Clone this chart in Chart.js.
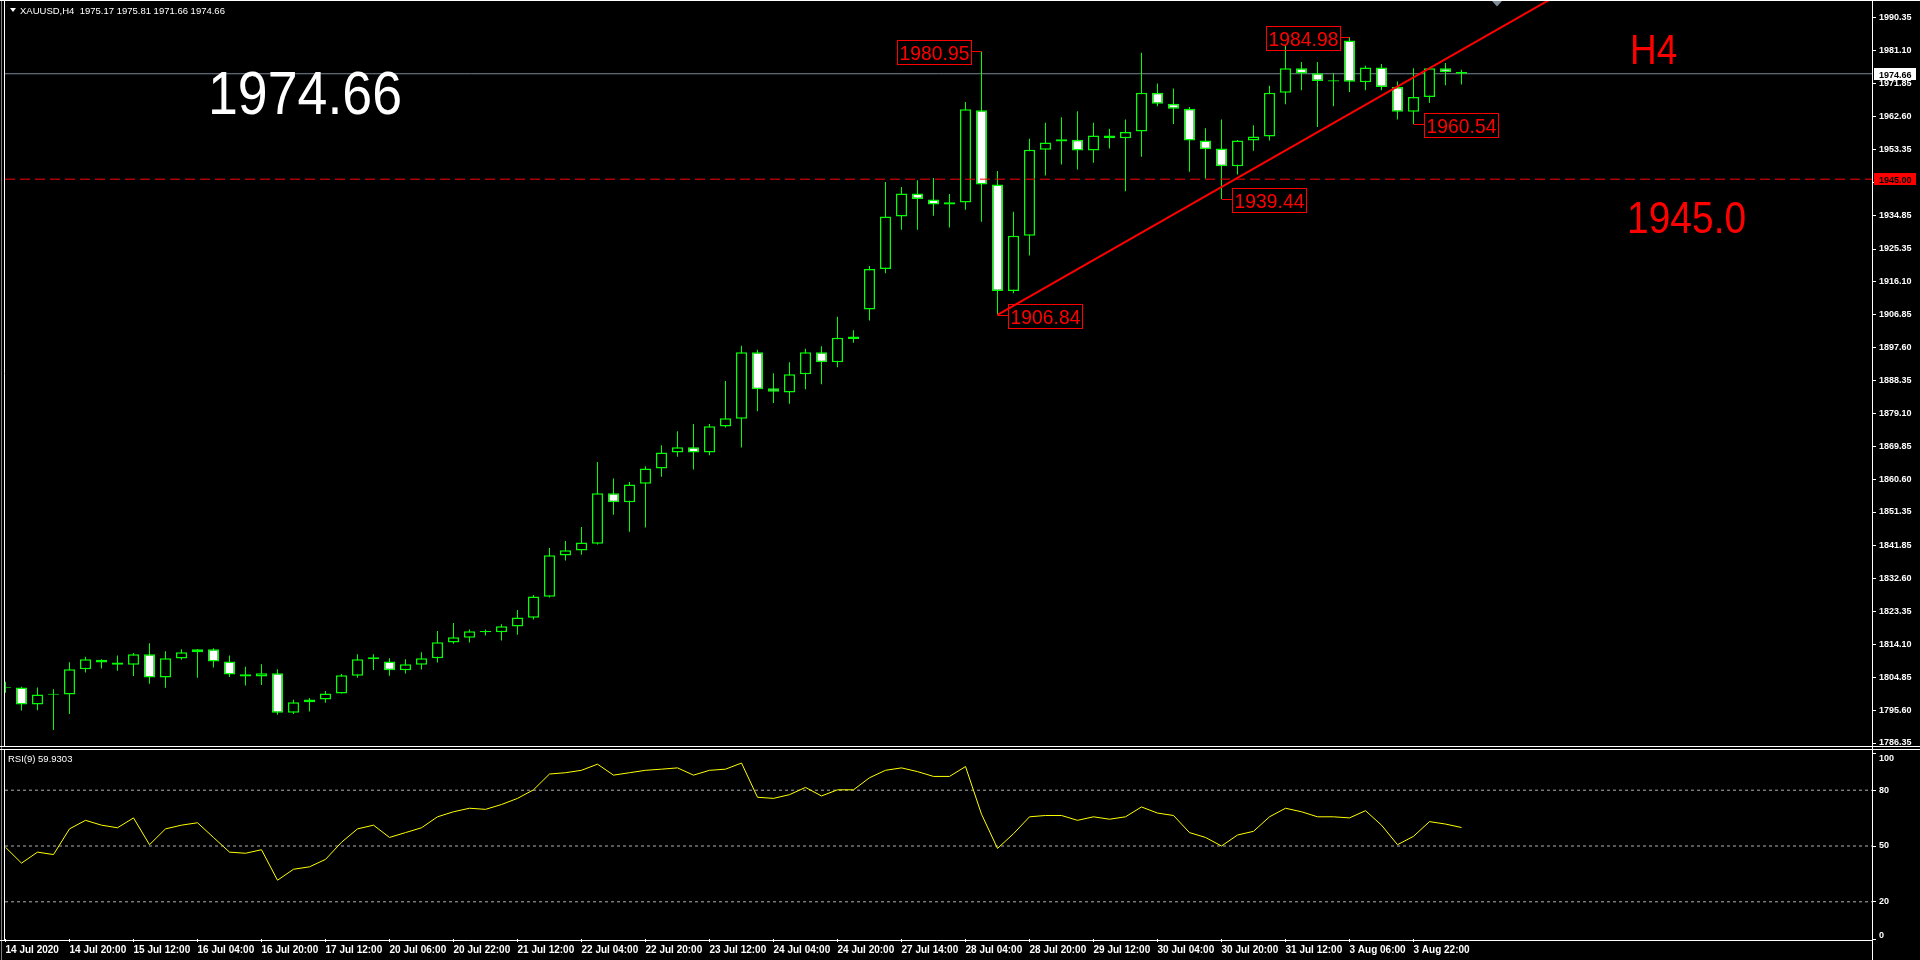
<!DOCTYPE html>
<html>
<head>
<meta charset="utf-8">
<title>XAUUSD H4</title>
<script src="https://cdn.jsdelivr.net/npm/chart.js@4.4.1/dist/chart.umd.min.js"></script>
<style>
html, body { margin: 0; padding: 0; background: #000; overflow: hidden; }
#wrap { position: relative; width: 1920px; height: 960px; background: #000; }
#mainBox { position: absolute; left: 0; top: 0; width: 1920px; height: 748px; }
#rsiBox { position: absolute; left: 0; top: 748px; width: 1920px; height: 212px; }
</style>
</head>
<body>
<div id="wrap">
    <div id="mainBox"><canvas id="mainChart"></canvas></div>
    <div id="rsiBox"><canvas id="rsiChart"></canvas></div>
</div>
<script>
const SYMBOL = "XAUUSD,H4";
const LAST_OHLC = [1975.17, 1975.81, 1971.66, 1974.66];

// one label every 4 bars (bar 0, 4, 8 ...)
const LABEL_STEP = 4;
const TIME_LABELS = ["14 Jul 2020","14 Jul 20:00","15 Jul 12:00","16 Jul 04:00","16 Jul 20:00","17 Jul 12:00",
    "20 Jul 06:00","20 Jul 22:00","21 Jul 12:00","22 Jul 04:00","22 Jul 20:00","23 Jul 12:00","24 Jul 04:00",
    "24 Jul 20:00","27 Jul 14:00","28 Jul 04:00","28 Jul 20:00","29 Jul 12:00","30 Jul 04:00","30 Jul 20:00",
    "31 Jul 12:00","3 Aug 06:00","3 Aug 22:00"];

const OPEN = [1801.9,1802.0,1797.2,1799.9,1800.0,1807.1,1809.8,1809.0,1808.4,1811.3,
    1804.8,1810.1,1811.9,1812.7,1809.3,1805.7,1805.1,1806.0,1794.9,1797.8,
    1798.6,1800.3,1805.3,1809.9,1809.3,1806.8,1808.4,1810.2,1814.6,1816.0,
    1817.5,1817.5,1819.1,1821.6,1827.5,1839.1,1840.5,1842.4,1856.6,1854.1,
    1859.3,1863.6,1868.1,1869.6,1868.1,1875.4,1877.6,1896.3,1886.2,1885.0,
    1890.1,1896.3,1893.5,1900.0,1908.3,1919.7,1934.5,1941.0,1939.3,1937.9,
    1938.4,1964.4,1943.5,1913.5,1929.1,1953.3,1955.6,1956.1,1953.1,1957.3,
    1956.5,1958.4,1969.3,1966.2,1964.8,1955.9,1953.6,1948.6,1955.9,1957.0,
    1969.3,1976.2,1974.8,1972.5,1984.0,1972.3,1976.4,1970.9,1964.0,1968.1,
    1976.2,1975.17];
const HIGH = [1803.6,1802.2,1802.0,1801.5,1809.1,1810.6,1809.9,1811.0,1811.7,1814.4,
    1812.2,1812.7,1812.8,1813.0,1811.0,1807.8,1808.5,1807.1,1798.5,1799.0,
    1801.0,1805.8,1811.3,1811.3,1810.2,1809.9,1811.9,1817.9,1820.1,1818.3,
    1818.3,1819.8,1823.8,1828.0,1841.2,1843.2,1847.1,1865.4,1860.8,1859.8,
    1864.2,1870.1,1874.1,1876.1,1876.1,1888.2,1898.1,1897.0,1890.4,1893.5,
    1897.3,1898.0,1906.3,1902.5,1920.6,1944.2,1942.8,1944.7,1945.3,1940.8,
    1966.7,1980.95,1947.3,1935.8,1956.4,1960.9,1962.4,1964.1,1960.9,1959.2,
    1961.8,1980.6,1971.9,1970.5,1965.3,1959.3,1961.8,1956.0,1960.2,1971.3,
    1982.7,1978.0,1978.0,1974.8,1984.98,1976.9,1977.4,1972.5,1976.2,1976.4,
    1977.7,1975.81];
const LOW = [1800.5,1795.5,1795.6,1790.0,1794.5,1806.2,1807.3,1806.7,1805.2,1803.0,
    1801.9,1809.8,1804.7,1807.6,1804.9,1802.5,1802.7,1794.3,1794.5,1795.2,
    1797.7,1800.3,1804.7,1806.9,1805.3,1805.9,1807.0,1809.0,1814.3,1814.6,
    1816.6,1815.2,1816.8,1821.1,1827.3,1837.7,1839.3,1842.2,1850.6,1845.8,
    1847.0,1861.3,1866.9,1863.3,1867.3,1875.1,1869.5,1879.7,1882.0,1881.8,
    1885.9,1887.3,1892.1,1899.0,1905.2,1918.5,1930.8,1930.8,1934.7,1931.4,
    1936.4,1933.0,1906.84,1912.9,1923.5,1946.0,1949.1,1947.7,1949.6,1953.6,
    1941.6,1951.3,1965.5,1960.5,1947.1,1945.1,1939.44,1946.3,1953.0,1955.9,
    1966.1,1970.0,1959.7,1965.5,1969.5,1970.0,1970.0,1961.8,1960.54,1966.5,
    1971.4,1971.66];
const CLOSE = [1802.1,1797.2,1800.0,1800.2,1807.1,1809.9,1809.0,1808.4,1811.3,1804.8,
    1810.2,1811.9,1812.7,1809.3,1805.6,1805.1,1806.0,1794.9,1797.8,1798.6,
    1800.3,1805.4,1809.9,1810.5,1806.8,1808.5,1810.2,1814.7,1816.1,1817.8,
    1817.9,1819.2,1821.7,1827.6,1839.2,1840.6,1842.8,1856.6,1854.1,1859.1,
    1863.6,1868.1,1869.6,1868.1,1875.5,1877.7,1896.3,1885.9,1885.2,1890.1,
    1896.3,1893.5,1900.4,1900.7,1919.7,1934.5,1941.0,1939.4,1937.9,1938.5,
    1964.7,1943.5,1913.5,1929.1,1953.3,1955.3,1956.2,1953.1,1957.3,1956.5,
    1958.3,1969.3,1966.2,1964.8,1955.9,1953.4,1948.6,1955.9,1957.0,1969.3,
    1976.2,1974.7,1972.6,1972.8,1972.4,1976.4,1970.9,1964.0,1968.1,1976.2,
    1975.1,1974.66];

const RSI_PERIOD = 9;
const RSI_LAST = 59.9303;
const RSI = [49.3,40.8,46.7,45.4,59.2,63.8,61.2,59.8,65.1,50.7,
    59.2,61.2,62.5,54.6,46.7,46.1,48.0,31.6,37.5,38.8,
    42.8,52.0,59.2,61.2,54.6,57.2,59.8,65.7,68.4,70.3,
    69.7,72.3,75.6,80.2,88.7,89.4,90.7,94.0,88.1,89.4,
    90.7,91.3,92.0,88.1,90.7,91.3,94.6,76.2,75.6,77.6,
    81.5,76.9,80.2,80.2,86.7,90.7,92.0,90.0,87.4,87.4,
    92.7,67.1,48.7,56.6,65.7,66.4,66.4,63.8,65.7,64.4,
    65.7,71.0,67.7,66.4,57.2,54.6,50.0,55.9,57.9,65.7,
    70.3,68.4,65.7,65.7,65.1,69.0,61.2,50.7,55.2,63.1,
    61.8,59.93];

const PRICE_TICKS = [1990.35,1981.10,1971.85,1962.60,1953.35,1944.10,1934.85,1925.35,1916.10,1906.85,
    1897.60,1888.35,1879.10,1869.85,1860.60,1851.35,1841.85,1832.60,1823.35,1814.10,1804.85,1795.60,1786.35];
const RSI_TICKS = [0, 20, 50, 80, 100];
const RSI_LEVELS = [20, 50, 80];
const RSI_MIN = 0, RSI_MAX = 100;

const LAST_PRICE = 1974.66;
const HLINE_PRICE = 1945.00;
// trend line through two (bar, price) points, drawn as a ray to the right
const TREND_A = [62, 1906.84];
const TREND_B = [91, 1981.35];

const MARK_BARS   = [61, 84, 62, 76, 88];
const MARK_PRICES = [1980.95, 1984.98, 1906.84, 1939.44, 1960.54];
const MARK_SIDES  = ["high", "high", "low", "low", "low"];

const TEXT_BIG = "1974.66";
const TEXT_TF = "H4";
const TEXT_LEVEL = "1945.0";

/* ---- layout ---- */
const FONT = '"Liberation Sans", Arial, sans-serif';
const AXIS_W = 48;
const PAD_L = 5;
const PLOT_W = 1920 - PAD_L - AXIS_W;      // 1867 px
const BAR_PX = 16;
const X_MIN = -0.5 / BAR_PX;
const X_MAX = X_MIN + PLOT_W / BAR_PX;
const Y_MIN = 1785.51, Y_MAX = 1995.13;

const GREEN = "#00ff00";
const RED = "#ff0000";

Chart.defaults.font.family = FONT;
Chart.defaults.animation = false;

function drawText(ctx, str, x, y, font, color, sx, align) {
    ctx.save();
    ctx.font = font;
    ctx.fillStyle = color;
    ctx.textAlign = "left";
    ctx.textBaseline = "alphabetic";
    const w = ctx.measureText(str).width * sx;
    let x0 = x;
    if (align === "center") x0 = x - w / 2;
    if (align === "right") x0 = x - w;
    ctx.translate(x0, y);
    ctx.scale(sx, 1);
    ctx.fillText(str, 0, 0);
    ctx.restore();
}

function hLine(ctx, x1, x2, y) { ctx.beginPath(); ctx.moveTo(x1, y); ctx.lineTo(x2, y); ctx.stroke(); }
function vLine(ctx, x, y1, y2) { ctx.beginPath(); ctx.moveTo(x, y1); ctx.lineTo(x, y2); ctx.stroke(); }

// keep the plot area exactly where the layout says (no label padding)
function fixSide(s) { s.width = AXIS_W; s.paddingTop = 0; s.paddingBottom = 0; }
function fixBottom(s) { s.height = 21; s.paddingLeft = 0; s.paddingRight = 0; }

const bull = i => CLOSE[i] >= OPEN[i];
const bars = OPEN.map((_, i) => i);

const trendSlope = (TREND_B[1] - TREND_A[1]) / (TREND_B[0] - TREND_A[0]);
const trendEnd = X_MAX + 5;

const mainOverlay = {
    id: "mainOverlay",
    afterDatasetsDraw(chart) {
        const ctx = chart.ctx, xs = chart.scales.x, ys = chart.scales.y;
        ctx.save();
        ctx.strokeStyle = RED;
        ctx.lineWidth = 1;
        MARK_BARS.forEach((b, k) => {
            const px = xs.getPixelForValue(b);
            const py = Math.round(ys.getPixelForValue(MARK_PRICES[k])) + 0.5;
            const w = 74, h = 24, gap = 10;
            const bx = MARK_SIDES[k] === "high" ? Math.round(px - gap - w) : Math.round(px + gap);
            hLine(ctx, MARK_SIDES[k] === "high" ? bx + w : bx, px, py);
            ctx.strokeRect(bx + 0.5, Math.round(py - h / 2) + 0.5, w, h);
            drawText(ctx, MARK_PRICES[k].toFixed(2), bx + w / 2 + 0.5, py + 8, "21px " + FONT, RED, 0.92, "center");
        });
        ctx.restore();
    },
    afterDraw(chart) {
        const ctx = chart.ctx, ys = chart.scales.y, a = chart.chartArea;
        ctx.save();
        // frame
        ctx.strokeStyle = "#808080"; ctx.lineWidth = 1;
        vLine(ctx, 1.5, 0, chart.height);
        ctx.strokeStyle = "#ffffff";
        hLine(ctx, 0, 1920, 0.5);
        hLine(ctx, 0, 1920, a.bottom + 0.5);
        vLine(ctx, a.left - 0.5, 0, a.bottom + 0.5);
        vLine(ctx, a.right + 0.5, 0, chart.height);

        // price boxes on the axis
        const boxes = [[LAST_PRICE, "#ffffff"], [HLINE_PRICE, RED]];
        boxes.forEach(([p, col]) => {
            const py = Math.round(ys.getPixelForValue(p));
            ctx.fillStyle = col;
            ctx.fillRect(a.right + 2, py - 6, 42, 12);
            drawText(ctx, p.toFixed(2), a.right + 7, py + 3.5, "bold 9px " + FONT, "#000000", 1, "left");
        });

        // chart shift marker
        ctx.fillStyle = "#7f8c99";
        ctx.beginPath();
        ctx.moveTo(a.right - 380, 1); ctx.lineTo(a.right - 370, 1); ctx.lineTo(a.right - 375, 6.5);
        ctx.closePath(); ctx.fill();

        // header
        ctx.fillStyle = "#ffffff";
        ctx.beginPath();
        ctx.moveTo(10, 8); ctx.lineTo(16, 8); ctx.lineTo(13, 12); ctx.closePath(); ctx.fill();
        drawText(ctx, SYMBOL + "  " + LAST_OHLC.map(v => v.toFixed(2)).join(" "), 20, 13.5, "9.5px " + FONT, "#ffffff", 1, "left");

        // text objects
        drawText(ctx, TEXT_BIG, 208, 114, "61px " + FONT, "#ffffff", 0.88, "left");
        drawText(ctx, TEXT_TF, 1630, 64, "42px " + FONT, RED, 0.88, "left");
        drawText(ctx, TEXT_LEVEL, 1627, 233, "44px " + FONT, RED, 0.885, "left");
        ctx.restore();
    }
};

const rsiOverlay = {
    id: "rsiOverlay",
    afterDraw(chart) {
        const ctx = chart.ctx, a = chart.chartArea;
        ctx.save();
        ctx.strokeStyle = "#808080"; ctx.lineWidth = 1;
        vLine(ctx, 1.5, 0, chart.height);
        ctx.strokeStyle = "#ffffff";
        hLine(ctx, 0, 1920, 1.5);
        hLine(ctx, 0, a.right + 0.5, a.bottom + 1.5);
        vLine(ctx, a.left - 0.5, 1.5, a.bottom + 1.5);
        vLine(ctx, a.right + 0.5, 0, chart.height);
        drawText(ctx, "RSI(" + RSI_PERIOD + ") " + RSI_LAST.toFixed(4), 8, 13.5, "9.5px " + FONT, "#ffffff", 1, "left");
        // end labels of the indicator scale sit just inside the pane
        drawText(ctx, String(RSI_MAX), a.right + 7, a.top + 7.5, "bold 9px " + FONT, "#ffffff", 1, "left");
        drawText(ctx, String(RSI_MIN), a.right + 7, a.bottom - 1.5, "bold 9px " + FONT, "#ffffff", 1, "left");
        ctx.restore();
    }
};

new Chart(document.getElementById("mainChart"), {
    type: "bar",
    data: {
        datasets: [
            {
                type: "line",
                data: [{ x: X_MIN, y: LAST_PRICE }, { x: X_MAX, y: LAST_PRICE }],
                borderColor: "#778899", borderWidth: 1, pointRadius: 0, order: 10
            },
            {
                data: bars.map(i => ({ x: i, y: [LOW[i], HIGH[i]] })),
                backgroundColor: GREEN, borderWidth: 0, barThickness: 1,
                inflateAmount: 0, grouped: false, order: 9
            },
            {
                data: bars.map(i => ({ x: i, y: [OPEN[i], CLOSE[i]] })),
                backgroundColor: bars.map(i => bull(i) ? "#000000" : "#ffffff"),
                borderColor: GREEN, borderWidth: 1.5, borderSkipped: false,
                barThickness: 11, inflateAmount: 0, grouped: false, order: 8
            },
            {
                type: "line",
                data: [{ x: X_MIN, y: HLINE_PRICE }, { x: X_MAX, y: HLINE_PRICE }],
                borderColor: RED, borderWidth: 1, borderDash: [10, 5], pointRadius: 0, order: 3
            },
            {
                type: "line",
                data: [{ x: TREND_A[0], y: TREND_A[1] },
                       { x: trendEnd, y: TREND_A[1] + trendSlope * (trendEnd - TREND_A[0]) }],
                borderColor: RED, borderWidth: 2, pointRadius: 0, order: 2
            }
        ]
    },
    options: {
        responsive: true,
        maintainAspectRatio: false,
        devicePixelRatio: 1,
        events: [],
        layout: { autoPadding: false, padding: { left: PAD_L, right: 0, top: 1, bottom: 2 } },
        plugins: { legend: { display: false }, tooltip: { enabled: false } },
        scales: {
            x: { type: "linear", display: false, min: X_MIN, max: X_MAX, offset: false },
            y: {
                type: "linear", position: "right", min: Y_MIN, max: Y_MAX,
                afterFit: fixSide,
                afterBuildTicks: s => { s.ticks = PRICE_TICKS.map(v => ({ value: v })); },
                ticks: {
                    color: "#ffffff", padding: 3, autoSkip: false,
                    font: { size: 9, weight: "bold" },
                    callback: v => Number(v).toFixed(2)
                },
                grid: { display: true, drawOnChartArea: false, drawTicks: true, tickLength: 4, tickColor: "#ffffff" },
                border: { display: false }
            }
        }
    },
    plugins: [mainOverlay]
});

new Chart(document.getElementById("rsiChart"), {
    type: "line",
    data: {
        datasets: [
            ...RSI_LEVELS.map(lv => ({
                data: [{ x: X_MIN, y: lv }, { x: X_MAX, y: lv }],
                borderColor: "#b0b0b0", borderWidth: 1, borderDash: [3, 3], pointRadius: 0, order: 5
            })),
            {
                data: bars.map(i => ({ x: i, y: RSI[i] })),
                borderColor: "#ffff00", borderWidth: 1, pointRadius: 0, tension: 0, order: 1
            }
        ]
    },
    options: {
        responsive: true,
        maintainAspectRatio: false,
        devicePixelRatio: 1,
        events: [],
        layout: { autoPadding: false, padding: { left: PAD_L, right: 0, top: 5, bottom: 0 } },
        plugins: { legend: { display: false }, tooltip: { enabled: false } },
        scales: {
            x: {
                type: "linear", min: X_MIN, max: X_MAX, offset: false,
                afterFit: fixBottom,
                afterBuildTicks: s => { s.ticks = TIME_LABELS.map((_, k) => ({ value: k * LABEL_STEP })); },
                ticks: {
                    color: "#ffffff", align: "start", padding: 2, autoSkip: false,
                    maxRotation: 0, minRotation: 0,
                    font: { size: 10, weight: "bold" },
                    callback: v => TIME_LABELS[Math.round(v / LABEL_STEP)]
                },
                grid: { display: true, drawOnChartArea: false, drawTicks: true, tickLength: 3, tickColor: "#ffffff" },
                border: { display: false }
            },
            y: {
                type: "linear", position: "right", min: RSI_MIN, max: RSI_MAX,
                afterFit: fixSide,
                afterBuildTicks: s => { s.ticks = RSI_TICKS.map(v => ({ value: v })); },
                ticks: {
                    color: "#ffffff", padding: 3, autoSkip: false,
                    font: { size: 9, weight: "bold" },
                    // the two end labels are drawn by the overlay, inside the pane
                    callback: v => (v === RSI_MIN || v === RSI_MAX) ? "" : String(v)
                },
                grid: { display: true, drawOnChartArea: false, drawTicks: true, tickLength: 4, tickColor: "#ffffff" },
                border: { display: false }
            }
        }
    },
    plugins: [rsiOverlay]
});
</script>
</body>
</html>
